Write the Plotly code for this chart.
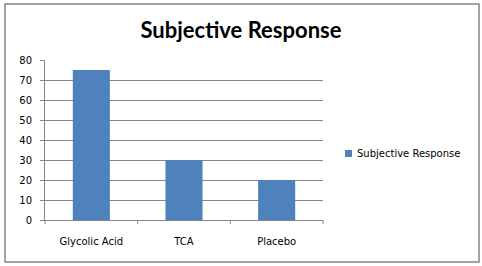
import plotly.graph_objects as go

categories = ["Glycolic Acid", "TCA", "Placebo"]
values = [75, 30, 20]
series_name = "Subjective Response"
y_ticks = [0, 10, 20, 30, 40, 50, 60, 70, 80]

W, H = 482, 266
L, R, T, B = 45, 159, 60, 46
pw, ph = W - L - R, H - T - B

def px(x):
    return (x - L) / pw

def py(y):
    return (H - B - y) / ph

fig = go.Figure()
fig.add_trace(go.Bar(
    x=categories, y=values, name=series_name,
    marker=dict(color="#4F81BD", line=dict(width=0)),
    width=0.4, showlegend=False, hoverinfo="skip",
))

fig.update_layout(
    width=W, height=H,
    margin=dict(l=L, r=R, t=T, b=B, autoexpand=False),
    paper_bgcolor="white", plot_bgcolor="white",
    font=dict(family="DejaVu Sans", size=10, color="black"),
    title=dict(text="<b>Subjective Response</b>", x=0.5, xref="container", xanchor="center",
               y=1 - 30 / H, yanchor="middle",
               font=dict(family="Lato", size=22, color="black")),
    xaxis=dict(showline=True, linecolor="#868686", linewidth=1, ticks="",
               showgrid=False, tickfont=dict(size=10), ticklabelstandoff=12),
    yaxis=dict(range=[0, 80], tickvals=y_ticks, showline=True, linecolor="#868686", linewidth=1,
               ticks="outside", ticklen=4, tickcolor="#868686",
               showgrid=True, gridcolor="#868686", gridwidth=1, zeroline=False,
               tickfont=dict(size=10), ticklabelstandoff=6),
    bargap=0.6,
    showlegend=False,
    shapes=[
        dict(type="rect", xref="paper", yref="paper",
             x0=px(5), x1=px(479), y0=py(262), y1=py(4),
             line=dict(color="#868686", width=1.5), layer="below"),
        dict(type="rect", xref="paper", yref="paper",
             x0=px(345), x1=px(352), y0=py(157), y1=py(150),
             line=dict(width=0), fillcolor="#4F81BD"),
    ] + [
        dict(type="line", xref="paper", yref="paper",
             x0=px(L + i * pw / 3), x1=px(L + i * pw / 3), y0=0, y1=py(224),
             line=dict(color="#868686", width=1))
        for i in range(4)
    ],
    annotations=[
        dict(text=series_name, xref="paper", yref="paper", x=px(355), y=py(153.5),
             xanchor="left", yanchor="middle", showarrow=False,
             font=dict(family="DejaVu Sans", size=10, color="black")),
    ],
)

fig.write_html("out.html", config={"displayModeBar": False},
               post_script="document.body.style.margin='0';document.body.style.overflow='hidden';")
